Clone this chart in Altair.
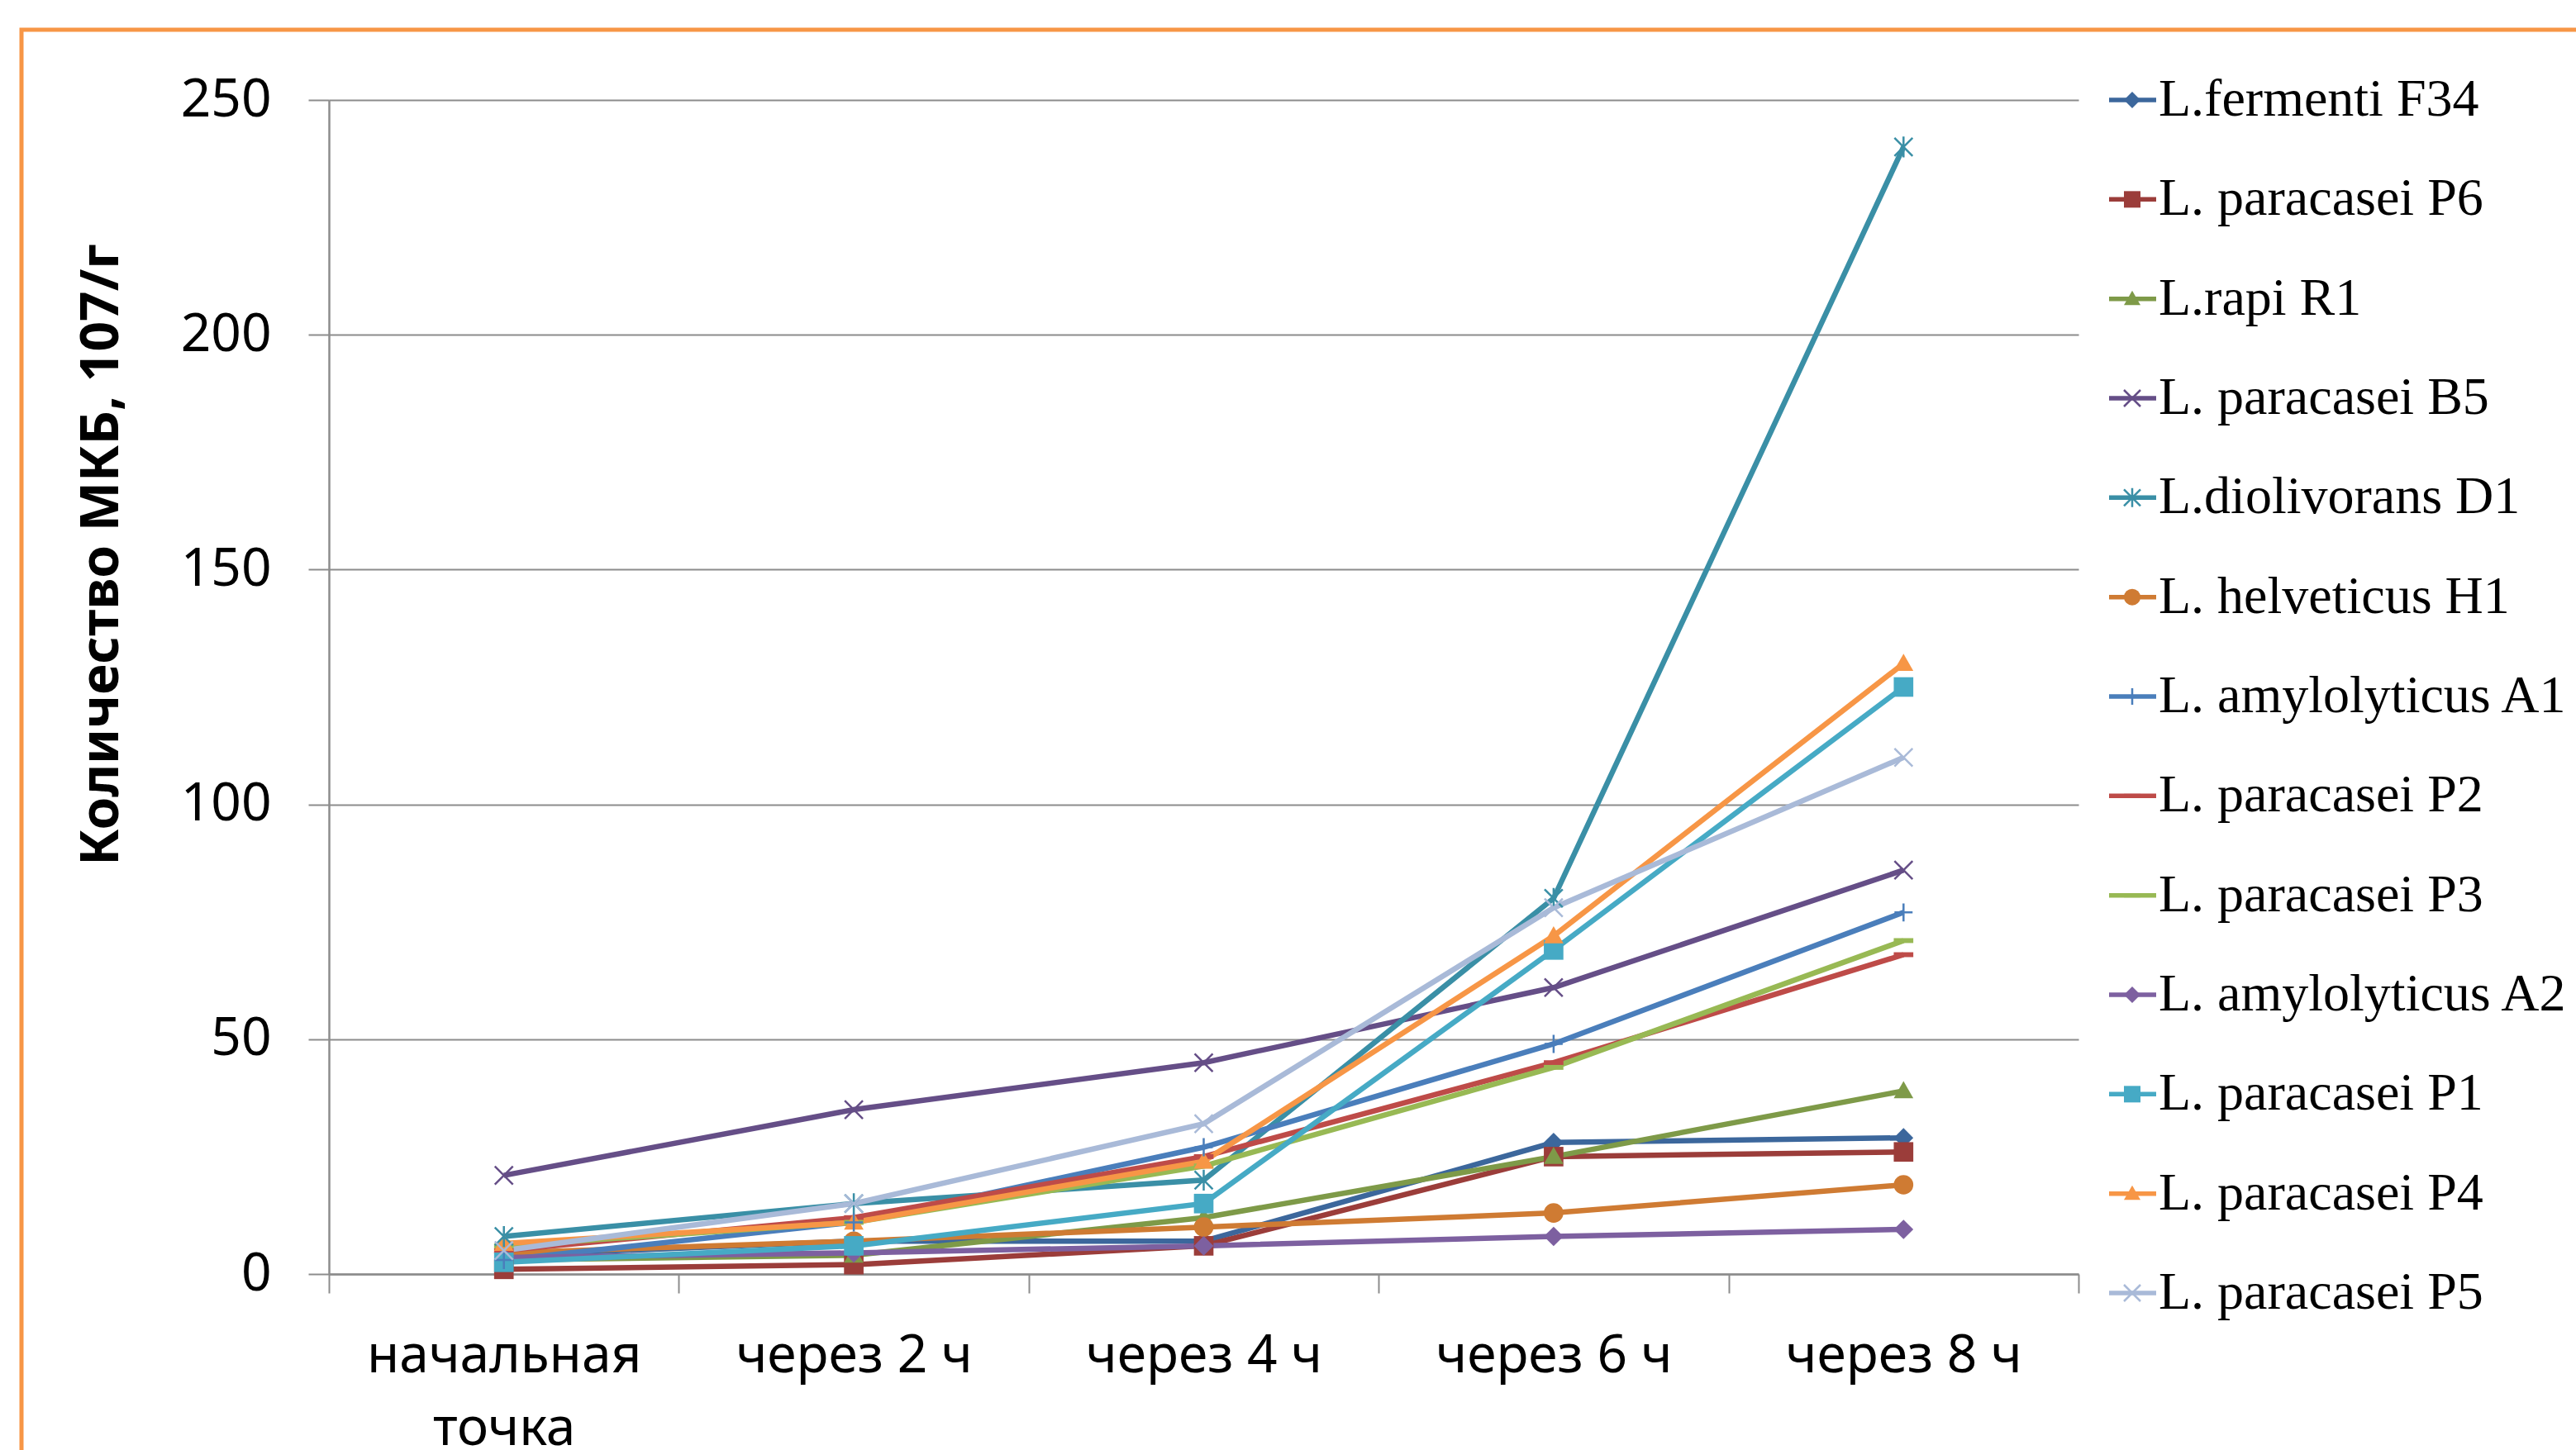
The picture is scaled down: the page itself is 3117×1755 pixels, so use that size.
import altair as alt
import pandas as pd

# Sampling times (x axis categories)
times = ["начальная точка", "через 2 ч", "через 4 ч", "через 6 ч", "через 8 ч"]

# Strain names, in legend order
strains = [
    "L.fermenti F34",
    "L. paracasei P6",
    "L.rapi R1",
    "L. paracasei B5",
    "L.diolivorans D1",
    "L. helveticus H1",
    "L. amylolyticus A1",
    "L. paracasei P2",
    "L. paracasei P3",
    "L. amylolyticus A2",
    "L. paracasei P1",
    "L. paracasei P4",
    "L. paracasei P5",
]

# LAB counts, 10^7 CFU/g, one list per strain (same order as strains)
f34 = [4, 7, 7, 28, 29]
p6 = [1, 2, 6, 25, 26]
r1 = [3, 4, 12, 25, 39]
b5 = [21, 35, 45, 61, 86]
d1 = [8, 15, 20, 80, 240]
h1 = [4.5, 7, 10, 13, 19]
a1 = [3, 11, 27, 49, 77]
p2 = [5, 12, 25, 45, 68]
p3 = [6, 11, 23, 44, 71]
a2 = [3.5, 4.5, 6, 8, 9.5]
p1 = [2.5, 6, 15, 69, 125]
p4 = [6.5, 11, 24, 72, 130]
p5 = [5, 15, 32, 78, 110]
values = [f34, p6, r1, b5, d1, h1, a1, p2, p3, a2, p1, p4, p5]

colors = [
    "#3C679C", "#9B3D3A", "#7E9A48", "#654E87", "#3A8FA6", "#CF7B33",
    "#4A7EBB", "#BE4B48", "#98B954", "#7D60A0", "#46AAC5", "#F79646", "#A9BAD8",
]

X_PATH = "M-1,-1L1,1M-1,1L1,-1"
STAR_PATH = "M-1,-1L1,1M-1,1L1,-1M0,-1.15L0,1.15"
PLUS_PATH = "M0,-1L0,1M-1,0L1,0"
DASH_PATH = "M-1,-0.25L1,-0.25L1,0.25L-1,0.25Z"
TRI_PATH = "M0,-1L1,0.75L-1,0.75Z"
shapes = [
    "diamond", "square", TRI_PATH, X_PATH, STAR_PATH, "circle",
    PLUS_PATH, DASH_PATH, DASH_PATH, "diamond", "square", TRI_PATH, X_PATH,
]
stroked = {X_PATH, STAR_PATH, PLUS_PATH}

rows = []
for name, vals, shp in zip(strains, values, shapes):
    for t, v in zip(times, vals):
        rows.append({"strain": name, "time": t, "value": v, "filled": shp not in stroked})
df = pd.DataFrame(rows)

legend_df = pd.DataFrame({
    "strain": strains,
    "row": list(range(len(strains))),
    "filled": [s not in stroked for s in shapes],
})

color_enc = alt.Color("strain:N", scale=alt.Scale(domain=strains, range=colors), legend=None)
shape_enc = alt.Shape("strain:N", scale=alt.Scale(domain=strains, range=shapes), legend=None)

GRAY = "#8C8C8C"
x_enc = alt.X(
    "time:N",
    sort=times,
    scale=alt.Scale(type="band", paddingInner=0, paddingOuter=0),
    axis=alt.Axis(
        title=None,
        labelAngle=0,
        tickBand="extent",
        domainColor=GRAY,
        domainWidth=2.5,
        tickColor=GRAY,
        tickWidth=2,
        tickSize=23,
        labelFont="Noto Sans",
        labelFontSize=64,
        labelColor="black",
        labelPadding=44,
        labelLimit=0,
        labelLineHeight=88,
        labelExpr="datum.value == 'начальная точка' ? ['начальная', 'точка'] : datum.label",
        grid=False,
    ),
)
y_scale = alt.Scale(domain=[0, 250], nice=False)

line = alt.Chart(df).mark_line(strokeWidth=6.5).encode(
    x=x_enc,
    y=alt.Y(
        "value:Q",
        scale=y_scale,
        axis=alt.Axis(
            values=[0, 50, 100, 150, 200, 250],
            title="Количество МКБ, 107/г",
            titleFont="Noto Sans",
            titleFontSize=64,
            titleFontWeight="bold",
            titleColor="black",
            titleAngle=270,
            titleAlign="center",
            titleBaseline="middle",
            titleX=-275,
            titleY=550,
            labelFont="Noto Sans",
            labelFontSize=64,
            labelColor="black",
            labelPadding=45,
            tickSize=25,
            tickColor=GRAY,
            tickWidth=2,
            domainColor=GRAY,
            domainWidth=2.5,
            gridColor=GRAY,
            gridWidth=2,
        ),
    ),
    color=color_enc,
    order=alt.Order("time_idx:Q"),
).transform_calculate(
    time_idx="indexof(" + str(times) + ", datum.time)"
)

pts_fill = alt.Chart(df).transform_filter("datum.filled").mark_point(
    filled=True, opacity=1, size=560
).encode(
    x=alt.X("time:N", sort=times),
    y=alt.Y("value:Q", scale=y_scale),
    color=color_enc,
    shape=shape_enc,
)

pts_stroke = alt.Chart(df).transform_filter("!datum.filled").mark_point(
    filled=False, opacity=1, size=480, strokeWidth=2.5
).encode(
    x=alt.X("time:N", sort=times),
    y=alt.Y("value:Q", scale=y_scale),
    color=color_enc,
    shape=shape_enc,
)

main = alt.layer(line, pts_fill, pts_stroke)

# Legend drawn at the right of the plot: line swatch + marker + strain name
leg_y = alt.Y("row:Q", scale=alt.Scale(domain=[0, 12], range=[0, 1444]), axis=None)
leg_line = alt.Chart(legend_df).mark_rule(strokeWidth=5.5).encode(
    x=alt.value(2154), x2=alt.value(2211), y=leg_y, color=color_enc
)
leg_fill = alt.Chart(legend_df).transform_filter("datum.filled").mark_point(
    filled=True, opacity=1, size=400
).encode(x=alt.value(2182), y=leg_y, color=color_enc, shape=shape_enc)
leg_stroke = alt.Chart(legend_df).transform_filter("!datum.filled").mark_point(
    filled=False, opacity=1, size=400, strokeWidth=2.5
).encode(x=alt.value(2182), y=leg_y, color=color_enc, shape=shape_enc)
leg_text = alt.Chart(legend_df).mark_text(
    align="left", baseline="middle", font="Liberation Serif", fontSize=64, color="black"
).encode(x=alt.value(2214), y=leg_y, text="strain:N")
legend = alt.layer(leg_line, leg_fill, leg_stroke, leg_text)

# Orange chart-area frame
frame = alt.Chart(pd.DataFrame({"k": [0]})).mark_rect(
    fill="transparent", stroke="#F79646", strokeWidth=5
).encode(x=alt.value(-372), x2=alt.value(2760), y=alt.value(-85), y2=alt.value(1700))

chart = alt.layer(main, legend, frame).resolve_scale(y="independent").properties(
    width=2117,
    height=1421,
    padding={"left": 398, "top": 121, "right": 602, "bottom": 213},
    autosize=alt.AutoSizeParams(type="none"),
    background="white",
).configure_view(stroke=None)

chart.save("out.html", embed_options={"renderer": "svg", "actions": False})
